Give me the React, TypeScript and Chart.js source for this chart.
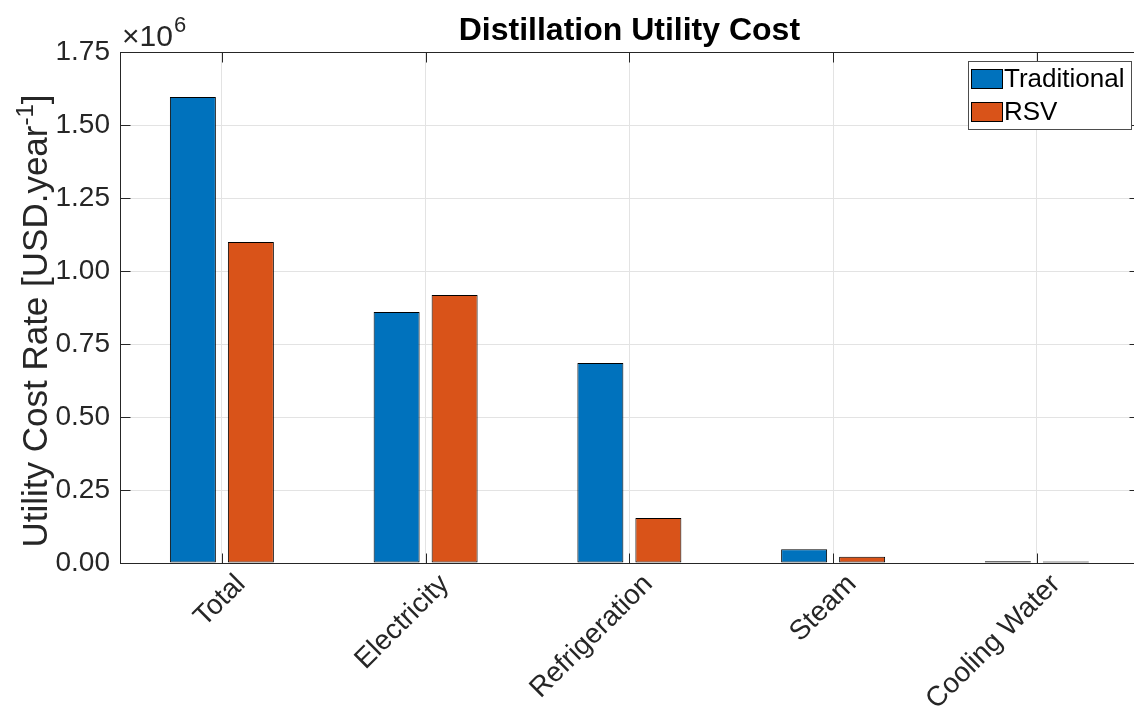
import React, { useEffect, useRef } from "react";
import { Chart, registerables } from "chart.js";

Chart.register(...registerables);

// ---------- data ----------
const categories = ["Total", "Electricity", "Refrigeration", "Steam", "Cooling Water"];
const traditionalValues = [1596000, 860000, 685000, 47000, 6000];
const rsvValues = [1099000, 918000, 154000, 21000, 5500];
const seriesNames = ["Traditional", "RSV"];
const seriesColors = ["#0072BD", "#D95319"];
const yMin = 0;
const yMax = 1750000;
const yStep = 250000;
const titleText = "Distillation Utility Cost";
const yLabelMain = "Utility Cost Rate [USD.year";
const yLabelSup = "-1";
const yLabelEnd = "]";
const exponentBase = "\u00d710";
const exponentPower = "6";

const FONT = "'Liberation Sans', Arial, Helvetica, sans-serif";
const AXIS_COLOR = "#262626";
const GRID_COLOR = "#e3e3e3";

const CANVAS_W = 1160;
const CANVAS_H = 718;

function crisp(v: number) {
  return Math.round(v) + 0.5;
}

const overlayPlugin = {
  id: "overlay",
  afterDraw(chart: any) {
    const { ctx, chartArea: ca, scales } = chart;
    const xs = scales.x;
    const ys = scales.y;
    ctx.save();
    ctx.strokeStyle = AXIS_COLOR;
    ctx.lineWidth = 1;
    const line = (x1: number, y1: number, x2: number, y2: number) => {
      ctx.beginPath();
      ctx.moveTo(x1, y1);
      ctx.lineTo(x2, y2);
      ctx.stroke();
    };
    const L = crisp(ca.left);
    const R = crisp(ca.right);
    const T = crisp(ca.top);
    const B = crisp(ca.bottom);
    // box
    line(L, T, R, T);
    line(R, T, R, B);
    line(L, B, R, B);
    // y ticks inside
    ys.ticks.forEach((t: any) => {
      const py = crisp(ys.getPixelForValue(t.value));
      line(L, py, L + 10, py);
      line(R, py, R - 10, py);
    });
    // x ticks inside
    categories.forEach((_c, i) => {
      const px = crisp(xs.getPixelForTick(i));
      line(px, B, px, B - 10);
      line(px, T, px, T + 10);
    });

    // title
    ctx.fillStyle = "#000000";
    ctx.font = `bold 32px ${FONT}`;
    ctx.textAlign = "center";
    ctx.textBaseline = "alphabetic";
    ctx.fillText(titleText, (ca.left + ca.right) / 2, 40);

    // exponent
    ctx.fillStyle = AXIS_COLOR;
    ctx.textAlign = "left";
    ctx.font = `30px ${FONT}`;
    const bx = ca.left + 2;
    ctx.fillText(exponentBase, bx, 46);
    const bw = ctx.measureText(exponentBase).width;
    ctx.font = `22px ${FONT}`;
    ctx.fillText(exponentPower, bx + bw + 1, 32);

    // y label
    ctx.save();
    ctx.translate(47, 321);
    ctx.rotate(-Math.PI / 2);
    ctx.font = `35px ${FONT}`;
    const w1 = ctx.measureText(yLabelMain).width;
    const w3 = ctx.measureText(yLabelEnd).width;
    ctx.font = `24px ${FONT}`;
    const w2 = ctx.measureText(yLabelSup).width;
    const total = w1 + w2 + w3;
    let x0 = -total / 2;
    ctx.textAlign = "left";
    ctx.textBaseline = "alphabetic";
    ctx.font = `35px ${FONT}`;
    ctx.fillText(yLabelMain, x0, 0);
    x0 += w1;
    ctx.font = `24px ${FONT}`;
    ctx.fillText(yLabelSup, x0, -14);
    x0 += w2;
    ctx.font = `35px ${FONT}`;
    ctx.fillText(yLabelEnd, x0, 0);
    ctx.restore();

    // legend
    const lx = 968.5;
    const ly = 61.5;
    const lw = 163;
    const lh = 68;
    ctx.fillStyle = "#ffffff";
    ctx.fillRect(lx, ly, lw, lh);
    ctx.strokeStyle = "#4d4d4d";
    ctx.strokeRect(lx, ly, lw, lh);
    ctx.font = `26px ${FONT}`;
    ctx.textAlign = "left";
    ctx.textBaseline = "middle";
    chart.data.datasets.forEach((ds: any, i: number) => {
      const cy = 79 + i * 33;
      ctx.fillStyle = ds.backgroundColor;
      ctx.fillRect(971.5, cy - 9.5, 31, 19);
      ctx.strokeStyle = "#000000";
      ctx.strokeRect(971.5, cy - 9.5, 31, 19);
      ctx.fillStyle = "#000000";
      ctx.fillText(ds.label, 1004, cy + 1);
    });
    ctx.restore();
  },
};

export default function App() {
  const canvasRef = useRef<HTMLCanvasElement | null>(null);

  useEffect(() => {
    const canvas = canvasRef.current;
    if (!canvas) return;
    const chart = new Chart(canvas, {
      type: "bar",
      data: {
        labels: categories,
        datasets: [
          {
            label: seriesNames[0],
            data: traditionalValues,
            backgroundColor: seriesColors[0],
            borderColor: "#000000",
            borderWidth: 1,
            borderSkipped: false,
          },
          {
            label: seriesNames[1],
            data: rsvValues,
            backgroundColor: seriesColors[1],
            borderColor: "#000000",
            borderWidth: 1,
            borderSkipped: false,
          },
        ],
      },
      options: {
        responsive: false,
        animation: false,
        devicePixelRatio: 1,
        layout: { padding: { top: 52, right: CANVAS_W - 1138.75, left: 0, bottom: 0 } },
        datasets: { bar: { categoryPercentage: 0.5693, barPercentage: 0.793 } },
        plugins: {
          legend: { display: false },
          title: { display: false },
          tooltip: { enabled: false },
        },
        scales: {
          x: {
            type: "category",
            offset: true,
            grid: { offset: false, color: GRID_COLOR, drawTicks: false, lineWidth: 1 },
            border: { display: true, color: AXIS_COLOR, width: 1 },
            ticks: {
              minRotation: 45,
              maxRotation: 45,
              autoSkip: false,
              padding: 5,
              labelOffset: 19,
              color: AXIS_COLOR,
              font: { family: FONT, size: 28 },
            },
            afterFit: (s: any) => {
              s.height = CANVAS_H - 563;
            },
          },
          y: {
            min: yMin,
            max: yMax,
            grid: { color: GRID_COLOR, drawTicks: false, lineWidth: 1 },
            border: { display: true, color: AXIS_COLOR, width: 1 },
            ticks: {
              stepSize: yStep,
              padding: 10,
              color: AXIS_COLOR,
              font: { family: FONT, size: 28 },
              callback: (v: any) => (Number(v) / 1e6).toFixed(2),
            },
            afterFit: (s: any) => {
              s.width = 120;
            },
          },
        },
      } as any,
      plugins: [overlayPlugin],
    });
    return () => chart.destroy();
  }, []);

  return (
    <div
      style={{
        position: "fixed",
        left: 0,
        top: 0,
        width: 1134,
        height: 718,
        overflow: "hidden",
        background: "#ffffff",
      }}
    >
      <canvas
        ref={canvasRef}
        width={CANVAS_W}
        height={CANVAS_H}
        style={{ width: CANVAS_W, height: CANVAS_H, display: "block" }}
      />
    </div>
  );
}
